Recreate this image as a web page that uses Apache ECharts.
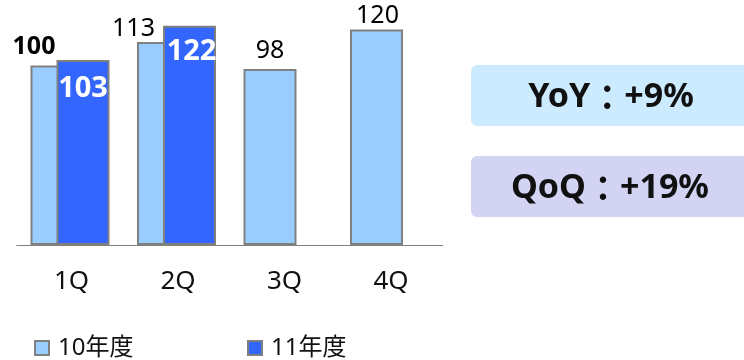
<!DOCTYPE html>
<html>
<head>
<meta charset="utf-8">
<script src="https://cdn.jsdelivr.net/npm/echarts@6/dist/echarts.min.js"></script>
<style>
html,body{margin:0;padding:0;background:#fff;}
#chart{width:744px;height:360px;}
</style>
</head>
<body>
<div id="chart"></div>
<script>
const categories = ['1Q', '2Q', '3Q', '4Q'];
const fy10 = [100, 113, 98, 120];
const fy11 = [103, 122, null, null];
const seriesNames = ['10年度', '11年度'];
const yoyParts = ['YoY', '：', '+9%'];
const qoqParts = ['QoQ', '：', '+19%'];

const FONT = "'Noto Sans', 'Noto Sans CJK JP', sans-serif";
const BORDER = '#808080';

const chart = echarts.init(document.getElementById('chart'));

const lightLabelCfg = [
  { offset: [-23, -1], fontWeight: 'bold' },
  { offset: [-30, 4], fontWeight: 'normal' },
  { offset: [0, -1], fontWeight: 'normal' },
  { offset: [1, 4], fontWeight: 'normal' }
];
const darkLabelCfg = [
  { offset: [0, 9] },
  { offset: [2, 6] }
];

const boxRich = {
  a: { fontFamily: "'Noto Sans', sans-serif", fontWeight: 'bold', fontSize: 34, fill: '#111' },
  c: { fontFamily: "'Noto Sans CJK TC', sans-serif", fontWeight: 'bold', fontSize: 34, fill: '#111' }
};
function richText(parts) {
  return '{a|' + parts[0] + '}{c|' + parts[1] + '}{a|' + parts[2] + '}';
}

chart.setOption({
  animation: false,
  grid: { left: 16.75, width: 426, top: 11.5, bottom: 115 },
  xAxis: {
    type: 'category',
    data: categories,
    axisLine: { lineStyle: { color: '#808080', width: 1 } },
    axisTick: { show: false },
    axisLabel: { color: '#111', fontSize: 26, fontFamily: FONT, margin: 24, padding: [0, 0, 0, 3] }
  },
  yAxis: { type: 'value', min: 0, max: 130, show: false, splitLine: { show: false } },
  legend: [
    {
      data: [seriesNames[0]], left: 34, top: 336, padding: 0,
      itemWidth: 14, itemHeight: 14, icon: 'rect',
      itemStyle: { borderColor: BORDER, borderWidth: 2 },
      textStyle: { fontSize: 24, color: '#111', fontFamily: FONT, padding: [0, 0, 0, 4] }
    },
    {
      data: [seriesNames[1]], left: 247, top: 336, padding: 0,
      itemWidth: 14, itemHeight: 14, icon: 'rect',
      itemStyle: { borderColor: BORDER, borderWidth: 2 },
      textStyle: { fontSize: 24, color: '#111', fontFamily: FONT, padding: [0, 0, 0, 4] }
    }
  ],
  series: [
    {
      name: seriesNames[0],
      type: 'bar',
      barWidth: 53,
      barGap: '-50.9%',
      itemStyle: { color: '#99CCFF', borderColor: BORDER, borderWidth: 2 },
      data: fy10.map((v, i) => ({
        value: v,
        label: {
          show: true, position: 'top',
          offset: lightLabelCfg[i].offset,
          fontWeight: lightLabelCfg[i].fontWeight,
          fontSize: 25, color: '#000', fontFamily: FONT
        }
      })),
      z: 2
    },
    {
      name: seriesNames[1],
      type: 'bar',
      barWidth: 53,
      itemStyle: { color: '#3366FF', borderColor: BORDER, borderWidth: 2 },
      data: fy11.map((v, i) => (v == null ? null : {
        value: v,
        label: {
          show: true, position: 'insideTop',
          offset: darkLabelCfg[i].offset,
          fontWeight: 'bold', fontSize: 29, color: '#fff', fontFamily: FONT
        }
      })),
      z: 3
    }
  ],
  graphic: [
    {
      type: 'rect', left: 471, top: 65,
      shape: { width: 290, height: 61, r: 6 },
      style: { fill: '#CCEBFF' }
    },
    {
      type: 'rect', left: 471, top: 156,
      shape: { width: 290, height: 61, r: 6 },
      style: { fill: '#D3D3F3' }
    },
    {
      type: 'text', x: 611, y: 97,
      style: { text: richText(yoyParts), rich: boxRich, align: 'center', verticalAlign: 'middle' }
    },
    {
      type: 'text', x: 610, y: 188,
      style: { text: richText(qoqParts), rich: boxRich, align: 'center', verticalAlign: 'middle' }
    }
  ]
});
</script>
</body>
</html>
